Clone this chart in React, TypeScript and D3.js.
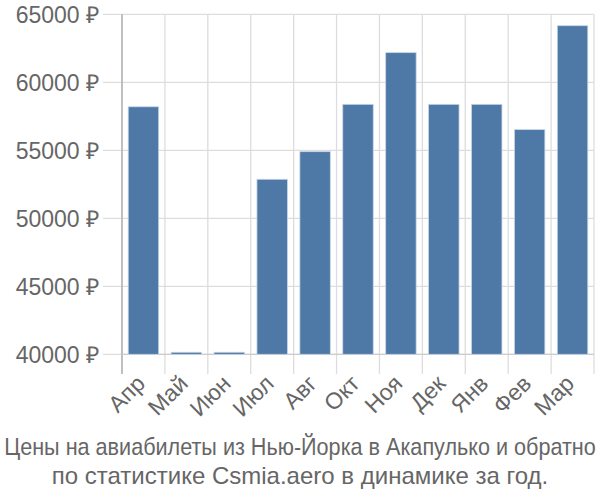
import React from "react";
import * as d3 from "d3";

const months = ["Апр", "Май", "Июн", "Июл", "Авг", "Окт", "Ноя", "Дек", "Янв", "Фев", "Мар"];
const prices = [58200, 40150, 40150, 52870, 54900, 58380, 62180, 58380, 58380, 56520, 64160];
const yTicks = [40000, 45000, 50000, 55000, 60000, 65000];
const titleLines = [
  "Цены на авиабилеты из Нью-Йорка в Акапулько и обратно",
  "по статистике Csmia.aero в динамике за год.",
];

const W = 600;
const H = 500;
const left = 122;
const right = 594;
const top = 14.3;
const bottom = 354.3;

export default function App() {
  const x = d3.scaleBand<string>().domain(months).range([left, right]).padding(0);
  const y = d3.scaleLinear().domain([40000, 65000]).range([bottom, top]);
  const bw = x.bandwidth();
  const barW = bw * 0.71;
  const font = "'Liberation Sans', Arial, sans-serif";
  const grid = "#dddddd";
  const textCol = "#666666";

  return (
    <svg
      width={W}
      height={H}
      style={{ position: "absolute", left: 0, top: 0 }}
      fontFamily={font}
    >
      <rect width={W} height={H} fill="#ffffff" />
      {yTicks.map((t) => (
        <g key={t}>
          <line x1={103} x2={right} y1={y(t)} y2={y(t)} stroke={grid} strokeWidth={1.3} />
          <text x={99} y={y(t)} dy="0.36em" textAnchor="end" fontSize={23} fill={textCol}>
            {t} ₽
          </text>
        </g>
      ))}
      {months.map((m) => (
        <line
          key={"g" + m}
          x1={x(m) as number}
          x2={x(m) as number}
          y1={top}
          y2={374}
          stroke={grid}
          strokeWidth={1.3}
        />
      ))}
      <line x1={right} x2={right} y1={top} y2={374} stroke={grid} strokeWidth={1.3} />
      <line x1={left} x2={left} y1={top} y2={374} stroke="#aaaaaa" strokeWidth={1.3} />
      <line x1={left} x2={right} y1={bottom} y2={bottom} stroke="#cccccc" strokeWidth={1.3} />
      {months.map((m, i) => {
        const cx = (x(m) as number) + bw / 2;
        return (
          <rect
            key={"b" + m}
            x={cx - barW / 2}
            y={y(prices[i])}
            width={barW}
            height={bottom - y(prices[i])}
            fill="#4e79a7"
            stroke="#c8d6e6"
            strokeWidth={0.8}
          />
        );
      })}
      {months.map((m) => {
        const cx = (x(m) as number) + bw / 2 + 3;
        const ty = 385;
        return (
          <text
            key={"l" + m}
            transform={`translate(${cx},${ty}) rotate(-45)`}
            textAnchor="end"
            fontSize={23}
            fill={textCol}
          >
            {m}
          </text>
        );
      })}
      {titleLines.map((l, i) => (
        <text
          key={"t" + i}
          transform={`translate(300,${455 + i * 29}) scale(${i === 0 ? 0.9 : 1},1)`}
          textAnchor="middle"
          fontSize={24}
          fill={textCol}
        >
          {l}
        </text>
      ))}
    </svg>
  );
}
